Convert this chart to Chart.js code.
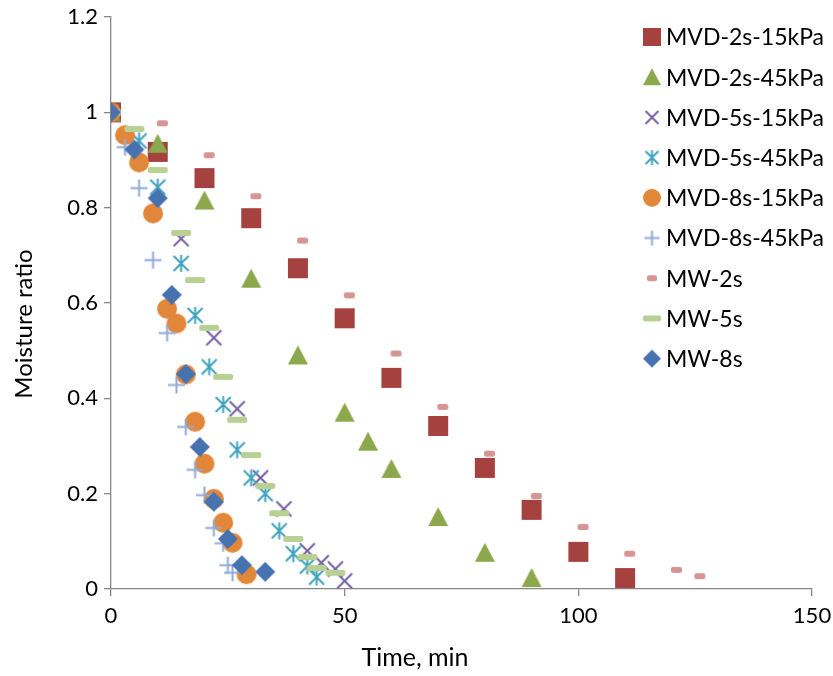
<!DOCTYPE html>
<html>
<head>
<meta charset="utf-8">
<script src="https://cdn.jsdelivr.net/npm/chart.js@4.4.1/dist/chart.umd.min.js"></script>
<style>
    html, body { margin: 0; padding: 0; background: #fff; }
</style>
</head>
<body>
<canvas id="moistureChart" width="833" height="676"></canvas>
<script>
// ===== Moisture ratio vs drying time =====

const seriesNames = ['MVD-2s-15kPa', 'MVD-2s-45kPa', 'MVD-5s-15kPa', 'MVD-5s-45kPa',
    'MVD-8s-15kPa', 'MVD-8s-45kPa', 'MW-2s', 'MW-5s', 'MW-8s'];

const mvd2s15Time = [0, 10, 20, 30, 40, 50, 60, 70, 80, 90, 100, 110];
const mvd2s15Ratio = [1, 0.917, 0.862, 0.778, 0.673, 0.568, 0.443, 0.342, 0.254, 0.166, 0.078, 0.023];

const mvd2s45Time = [0, 10, 20, 30, 40, 50, 55, 60, 70, 80, 90];
const mvd2s45Ratio = [1, 0.934, 0.815, 0.651, 0.49, 0.37, 0.309, 0.252, 0.151, 0.076, 0.023];

const mvd5s15Time = [0, 15, 22, 27, 32, 37, 42, 45, 48, 50];
const mvd5s15Ratio = [1, 0.735, 0.527, 0.378, 0.233, 0.168, 0.08, 0.055, 0.042, 0.017];

const mvd5s45Time = [0, 6, 10, 15, 18, 21, 24, 27, 30, 33, 36, 39, 42, 44];
const mvd5s45Ratio = [1, 0.94, 0.843, 0.683, 0.574, 0.466, 0.387, 0.292, 0.233, 0.2, 0.122, 0.074, 0.048, 0.025];

const mvd8s15Time = [0, 3, 6, 9, 12, 14, 16, 18, 20, 22, 24, 26, 29];
const mvd8s15Ratio = [1, 0.952, 0.895, 0.788, 0.588, 0.557, 0.45, 0.351, 0.263, 0.189, 0.139, 0.097, 0.031];

const mvd8s45Time = [0, 3, 6, 9, 12, 14, 16, 18, 20, 22, 24, 25, 26];
const mvd8s45Ratio = [1, 0.927, 0.841, 0.69, 0.537, 0.428, 0.34, 0.25, 0.197, 0.128, 0.096, 0.05, 0.034];

const mw2sTime = [0, 11, 21, 31, 41, 51, 61, 71, 81, 91, 101, 111, 121, 126];
const mw2sRatio = [1, 0.977, 0.91, 0.824, 0.731, 0.616, 0.494, 0.382, 0.284, 0.195, 0.13, 0.074, 0.04, 0.027];

const mw5sTime = [0, 5, 10, 15, 18, 21, 24, 27, 30, 33, 36, 39, 42, 44, 48];
const mw5sRatio = [1, 0.965, 0.879, 0.747, 0.648, 0.548, 0.445, 0.355, 0.281, 0.216, 0.159, 0.105, 0.067, 0.044, 0.034];

const mw8sTime = [0, 5, 10, 13, 16, 19, 22, 25, 28, 33];
const mw8sRatio = [1, 0.922, 0.82, 0.617, 0.451, 0.298, 0.183, 0.105, 0.05, 0.036];

const xTicks = [0, 50, 100, 150];
const yTicks = [0, 0.2, 0.4, 0.6, 0.8, 1, 1.2];

const markerKinds = ['square', 'triangle', 'xcross', 'asterisk', 'circle', 'plus', 'dashSmall', 'dashLong', 'diamond'];
const markerColors = ['#A5423F', '#8CA84C', '#7460A0', '#3FA3BE', '#E2873A', '#8FA9D6', '#D69593', '#B9D094', '#4672B0'];

const FONT = 'Lato, "Open Sans", sans-serif';

// draw a marker glyph on its own small canvas, used as pointStyle
function makeMarker(kind, color, s) {
    const c = document.createElement('canvas');
    let w = s, h = s;
    if (kind === 'dashSmall') { w = Math.round(s * 0.56); h = 6; }
    if (kind === 'dashLong') { w = s; h = 6; }
    c.width = w + 2;
    c.height = h + 2;
    const ctx = c.getContext('2d');
    ctx.translate(1, 1);
    ctx.fillStyle = color;
    ctx.strokeStyle = color;
    ctx.lineWidth = 2;
    ctx.beginPath();
    switch (kind) {
        case 'square':
            ctx.fillRect(0, 0, w, h);
            break;
        case 'triangle':
            ctx.moveTo(w / 2, 0);
            ctx.lineTo(w, h * 0.95);
            ctx.lineTo(0, h * 0.95);
            ctx.closePath();
            ctx.fill();
            break;
        case 'xcross':
            ctx.moveTo(1, 1); ctx.lineTo(w - 1, h - 1);
            ctx.moveTo(w - 1, 1); ctx.lineTo(1, h - 1);
            ctx.stroke();
            break;
        case 'asterisk':
            ctx.moveTo(1, 1); ctx.lineTo(w - 1, h - 1);
            ctx.moveTo(w - 1, 1); ctx.lineTo(1, h - 1);
            ctx.moveTo(w / 2, 0); ctx.lineTo(w / 2, h);
            ctx.stroke();
            break;
        case 'circle':
            ctx.arc(w / 2, h / 2, w / 2, 0, Math.PI * 2);
            ctx.fill();
            break;
        case 'plus':
            ctx.moveTo(0, h / 2); ctx.lineTo(w, h / 2);
            ctx.moveTo(w / 2, 0); ctx.lineTo(w / 2, h);
            ctx.stroke();
            break;
        case 'dashSmall':
        case 'dashLong':
            ctx.roundRect(0, 0, w, h, 2);
            ctx.fill();
            break;
        case 'diamond':
            ctx.moveTo(w / 2, 0);
            ctx.lineTo(w, h / 2);
            ctx.lineTo(w / 2, h);
            ctx.lineTo(0, h / 2);
            ctx.closePath();
            ctx.fill();
            break;
    }
    return c;
}

const plotSizes = [20, 20, 17, 17, 20, 17, 20, 20, 20];
const legendSizes = [18, 18, 15, 15, 18, 15, 18, 18, 18];

const seriesTimes = [mvd2s15Time, mvd2s45Time, mvd5s15Time, mvd5s45Time, mvd8s15Time, mvd8s45Time, mw2sTime, mw5sTime, mw8sTime];
const seriesRatios = [mvd2s15Ratio, mvd2s45Ratio, mvd5s15Ratio, mvd5s45Ratio, mvd8s15Ratio, mvd8s45Ratio, mw2sRatio, mw5sRatio, mw8sRatio];

const datasets = seriesNames.map((name, i) => ({
    label: name,
    data: seriesTimes[i].map((t, j) => ({ x: t, y: seriesRatios[i][j] })),
    pointStyle: makeMarker(markerKinds[i], markerColors[i], plotSizes[i]),
    pointRadius: 10,
    showLine: false,
    // later series sit on top, like the original workbook
    order: seriesNames.length - i
}));

const legendMarkers = seriesNames.map((n, i) => makeMarker(markerKinds[i], markerColors[i], legendSizes[i]));

// legend and axis titles placed where the original has them
const annotations = {
    id: 'annotations',
    afterDraw(chart) {
        const ctx = chart.ctx;
        ctx.save();
        ctx.fillStyle = '#000';
        ctx.textBaseline = 'middle';
        ctx.font = '23px ' + FONT;
        seriesNames.forEach((name, i) => {
            const y = 37 + i * 40.2;
            const m = legendMarkers[i];
            ctx.drawImage(m, 652 - m.width / 2, y - m.height / 2);
            ctx.textAlign = 'left';
            ctx.fillText(name, 666, y + 1);
        });

        ctx.font = '25px ' + FONT;
        ctx.textAlign = 'center';
        ctx.fillText('Time, min', 415, 658);

        ctx.font = '24px ' + FONT;
        ctx.translate(24, 324);
        ctx.rotate(-Math.PI / 2);
        ctx.fillText('Moisture ratio', 0, 0);
        ctx.restore();
    }
};

const axisColor = '#878787';

new Chart(document.getElementById('moistureChart'), {
    type: 'scatter',
    data: { datasets },
    options: {
        responsive: false,
        animation: false,
        events: [],
        layout: { padding: { left: 0, top: 17, right: 21, bottom: 0 } },
        plugins: {
            legend: { display: false },
            tooltip: { enabled: false }
        },
        scales: {
            x: {
                type: 'linear',
                min: 0,
                max: 150,
                afterFit: s => { s.height = 87; s.paddingLeft = 0; s.paddingRight = 0; },
                afterBuildTicks: s => { s.ticks = xTicks.map(v => ({ value: v })); },
                border: { color: axisColor, width: 1.3 },
                grid: { drawOnChartArea: false, color: axisColor, lineWidth: 1.3, tickLength: 7 },
                ticks: { color: '#000', padding: 7, font: { family: FONT, size: 22 }, maxRotation: 0,
                    callback: v => String(v) }
            },
            y: {
                min: 0,
                max: 1.2,
                afterFit: s => { s.width = 111; s.paddingTop = 0; s.paddingBottom = 0; },
                afterBuildTicks: s => { s.ticks = yTicks.map(v => ({ value: v })); },
                border: { color: axisColor, width: 1.3 },
                grid: { drawOnChartArea: false, color: axisColor, lineWidth: 1.3, tickLength: 7 },
                ticks: { color: '#000', padding: 6, font: { family: FONT, size: 22 },
                    callback: v => String(v) }
            }
        }
    },
    plugins: [annotations]
});
</script>
</body>
</html>
